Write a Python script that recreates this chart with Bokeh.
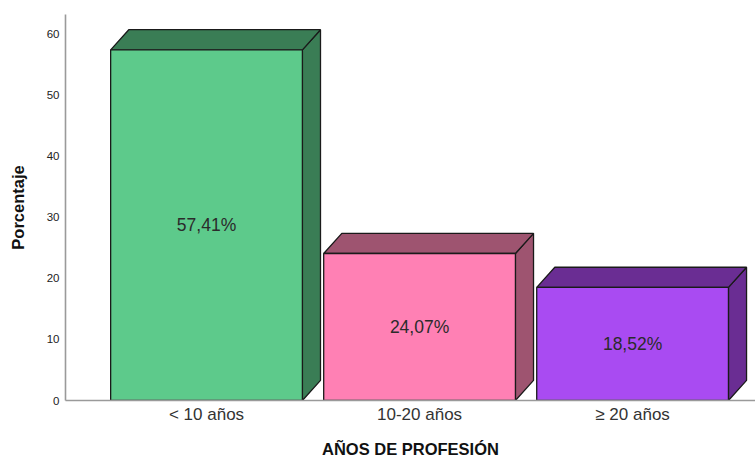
from bokeh.plotting import figure
from bokeh.models import Range1d, FixedTicker
from bokeh.core.properties import value
from bokeh.embed import file_html
from bokeh.resources import INLINE

# Distribution of respondents by years in the profession
categories = ["< 10 años", "10-20 años", "≥ 20 años"]
percentages = [57.41, 24.07, 18.52]
value_labels = ["57,41%", "24,07%", "18,52%"]
front_colors = ["#5DCA8B", "#FF80B4", "#A94BF2"]
shade_colors = ["#3A7D55", "#9E5470", "#6A2D93"]
y_ticks = [0, 10, 20, 30, 40, 50, 60]

FONT = "Liberation Sans"
BAR_HALF = 0.45      # half width of the front face, in category units
DEPTH_X = 0.085      # horizontal depth of the 3D box, in category units
DEPTH_Y = 3.3        # vertical depth of the 3D box, in percent units

positions = list(range(len(categories)))

p = figure(
    width=755, height=460,
    x_range=Range1d(-0.662, 2.577),
    y_range=Range1d(0, 63.2),
    output_backend="svg",
    toolbar_location=None,
    min_border_left=65, min_border_right=0,
    min_border_top=14, min_border_bottom=60,
)
p.outline_line_color = None
p.xgrid.visible = False
p.ygrid.visible = False
p.background_fill_color = "white"
p.border_fill_color = "white"

# side faces (right) and top faces of each box
side_xs, side_ys, top_xs, top_ys = [], [], [], []
for c, v in zip(positions, percentages):
    side_xs.append([c + BAR_HALF, c + BAR_HALF + DEPTH_X, c + BAR_HALF + DEPTH_X, c + BAR_HALF])
    side_ys.append([0, DEPTH_Y, v + DEPTH_Y, v])
    top_xs.append([c - BAR_HALF, c - BAR_HALF + DEPTH_X, c + BAR_HALF + DEPTH_X, c + BAR_HALF])
    top_ys.append([v, v + DEPTH_Y, v + DEPTH_Y, v])

p.patches(side_xs, side_ys, fill_color=shade_colors, line_color="#1a1a1a", line_width=1.3)
p.patches(top_xs, top_ys, fill_color=shade_colors, line_color="#1a1a1a", line_width=1.3)

# front faces
p.quad(left=[c - BAR_HALF for c in positions], right=[c + BAR_HALF for c in positions],
       bottom=0, top=percentages, fill_color=front_colors,
       line_color="#1a1a1a", line_width=1.3)

# value labels inside the bars
p.text(x=positions, y=[v / 2 for v in percentages], text=value_labels,
       text_align="center", text_baseline="middle",
       text_font=value(FONT), text_font_size="17.5px", text_color="#2b2b2b")

# axes
xa = p.xaxis[0]
xa.ticker = FixedTicker(ticks=positions)
xa.major_label_overrides = {i: lab for i, lab in zip(positions, categories)}
xa.major_tick_line_color = None
xa.major_tick_out = 0
xa.major_tick_in = 0
xa.minor_tick_line_color = None
xa.minor_tick_out = 0
xa.major_label_text_font = FONT
xa.major_label_text_font_size = "17px"
xa.major_label_text_color = "#333333"
xa.major_label_standoff = 4
xa.axis_line_color = "#9a9a9a"
xa.axis_line_width = 1.6
xa.axis_label = "AÑOS DE PROFESIÓN"
xa.axis_label_text_font = FONT
xa.axis_label_text_font_size = "16.5px"
xa.axis_label_text_font_style = "bold"
xa.axis_label_text_color = "#111111"
xa.axis_label_standoff = 13

ya = p.yaxis[0]
ya.ticker = FixedTicker(ticks=y_ticks)
ya.major_tick_line_color = None
ya.major_tick_out = 0
ya.major_tick_in = 0
ya.minor_tick_line_color = None
ya.minor_tick_out = 0
ya.major_label_text_font = FONT
ya.major_label_text_font_size = "11.5px"
ya.major_label_text_color = "#222222"
ya.major_label_standoff = 6
ya.axis_line_color = "#9a9a9a"
ya.axis_line_width = 1.6
ya.axis_label = "Porcentaje"
ya.axis_label_text_font = FONT
ya.axis_label_text_font_size = "16.5px"
ya.axis_label_text_font_style = "bold"
ya.axis_label_text_color = "#111111"
ya.axis_label_standoff = 17

open("out.html", "w").write(file_html(p, INLINE))
